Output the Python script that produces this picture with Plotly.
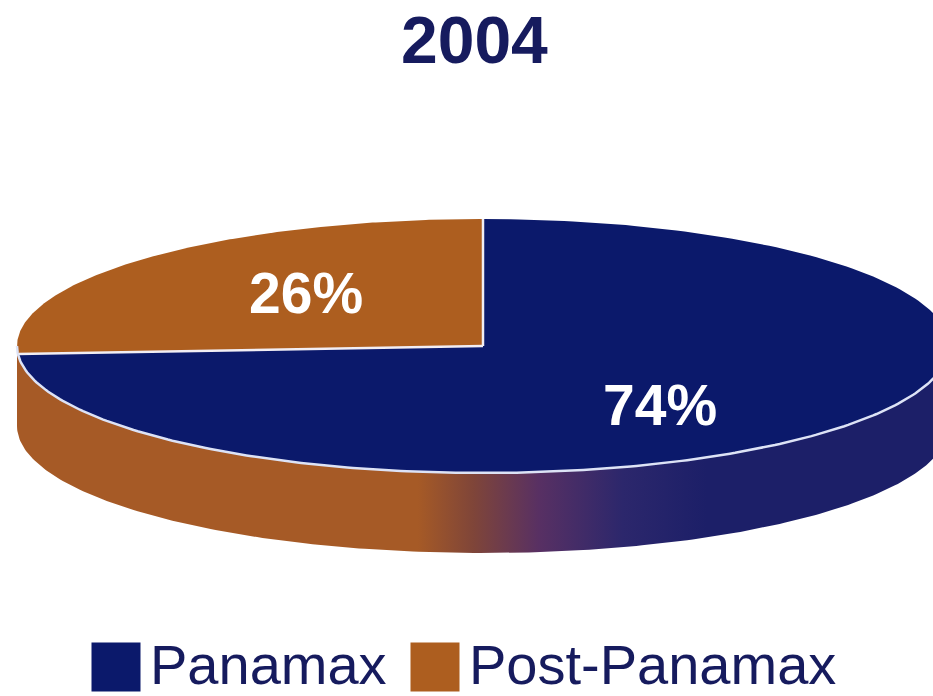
import numpy as np
import plotly.graph_objects as go

# ---- data ----
CATEGORIES = ["Panamax", "Post-Panamax"]
SHARES = [74, 26]          # percent
TITLE = "2004"

# ---- styling ----
COLORS = {"Panamax": "#0b196b", "Post-Panamax": "#ad5e1f"}
SIDE_ORANGE = "#a65a26"
SIDE_NAVY = "#1c1f68"
TEXT_NAVY = "#161b5e"
FONT = "Liberation Sans, Arial, sans-serif"

W, H = 933, 696
CX, CY = 483, 346      # centre of the top face
RX, RY = 466, 127      # radii of the top face
DEPTH = 80             # thickness of the disc
START = 90             # first slice starts at 12 o'clock, counter-clockwise


def arc(t0, t1, dy=0.0, n=240):
    t = np.radians(np.linspace(t0, t1, n))
    return CX + RX * np.cos(t), CY - RY * np.sin(t) + dy


fig = go.Figure()

# side wall (front half of the disc) with horizontal colour blend
xt, yt = arc(180, 360)
xb, yb = arc(360, 180, dy=DEPTH)
fig.add_trace(go.Scatter(
    x=np.concatenate([xt, xb, xt[:1]]), y=np.concatenate([yt, yb, yt[:1]]),
    mode="lines", line=dict(width=0), fill="toself",
    fillgradient=dict(
        type="horizontal", start=CX - RX, stop=CX + RX,
        colorscale=[[0.0, SIDE_ORANGE], [0.43, SIDE_ORANGE], [0.49, "#7f4539"],
                    [0.56, "#583063"], [0.65, "#2c276c"], [0.74, SIDE_NAVY],
                    [1.0, SIDE_NAVY]]),
    hoverinfo="skip"))

# top face slices, in counter-clockwise order from 12 o'clock
order = ["Post-Panamax", "Panamax"]
share_of = dict(zip(CATEGORIES, SHARES))
bounds = []
angle = START
slice_angles = {}
for cat in order:
    sweep = share_of[cat] * 3.6
    a0, a1 = angle, angle + sweep
    slice_angles[cat] = (a0, a1)
    ax, ay = arc(a0, a1)
    fig.add_trace(go.Scatter(
        x=np.concatenate([[CX], ax, [CX]]), y=np.concatenate([[CY], ay, [CY]]),
        mode="lines", line=dict(width=0), fill="toself",
        fillcolor=COLORS[cat], hoverinfo="skip"))
    bounds.append(a0)
    angle = a1

# white radial lines between slices
for b in bounds:
    ex, ey = arc(b, b, n=1)
    fig.add_trace(go.Scatter(
        x=[CX, ex[0]], y=[CY, ey[0]], mode="lines",
        line=dict(color="#f2eef4", width=2.5), hoverinfo="skip"))

# light rim along the front edge of the top face
rx_, ry_ = arc(180, 360)
fig.add_trace(go.Scatter(x=rx_, y=ry_, mode="lines",
                         line=dict(color="#dde3f6", width=2.5), hoverinfo="skip"))

# percentage labels at slice mid-angles
LABEL_SHIFT = {"Post-Panamax": 8, "Panamax": -14}
for cat in order:
    a0, a1 = slice_angles[cat]
    mid = np.radians((a0 + a1) / 2)
    fig.add_annotation(
        x=CX + 0.52 * RX * np.cos(mid), y=CY - 0.52 * RY * np.sin(mid),
        text=f"<b>{share_of[cat]}%</b>", showarrow=False,
        yshift=LABEL_SHIFT[cat],
        font=dict(family=FONT, size=57, color="white"))

# title
fig.add_annotation(x=474, y=40, text=f"<b>{TITLE}</b>", showarrow=False,
                   font=dict(family=FONT, size=66, color=TEXT_NAVY))

# legend: swatches and names
LEG_SWATCH_X = [116, 435]
LEG_TEXT_X = [148, 467]
LEG_SWATCH_Y = 667
LEG_TEXT_Y = 664
fig.add_trace(go.Scatter(
    x=LEG_SWATCH_X, y=[LEG_SWATCH_Y] * 2, mode="markers",
    marker=dict(symbol="square", size=49,
                color=[COLORS[c] for c in CATEGORIES], line=dict(width=0)),
    hoverinfo="skip"))
for cat, tx in zip(CATEGORIES, LEG_TEXT_X):
    fig.add_annotation(x=tx, y=LEG_TEXT_Y, text=cat, showarrow=False,
                       xanchor="left", yanchor="middle",
                       font=dict(family=FONT, size=56, color=TEXT_NAVY))

fig.update_layout(
    width=W, height=H, margin=dict(l=0, r=0, t=0, b=0),
    paper_bgcolor="white", plot_bgcolor="white", showlegend=False,
    xaxis=dict(range=[0, W], visible=False, fixedrange=True),
    yaxis=dict(range=[H, 0], visible=False, fixedrange=True),
)

fig.write_html("out.html")
